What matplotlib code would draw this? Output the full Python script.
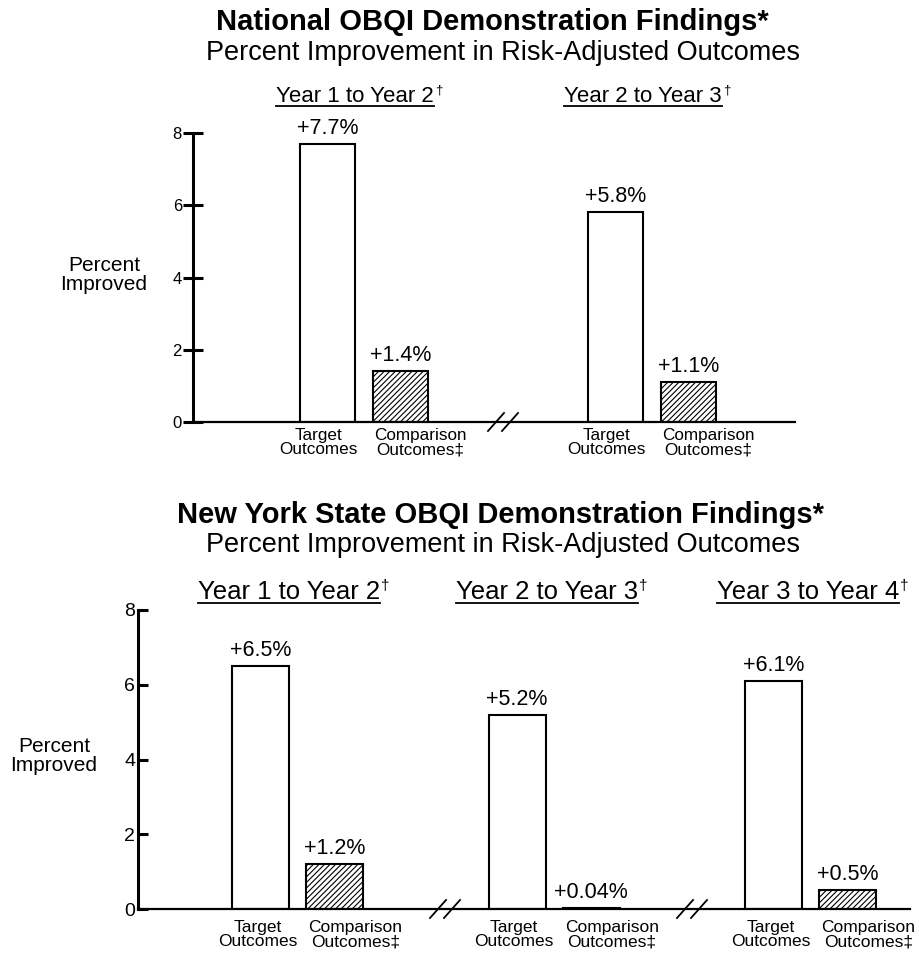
import numpy as np
import matplotlib
matplotlib.use('Agg')
from matplotlib import pyplot as plt
from matplotlib.lines import Line2D

plt.rcParams['font.family'] = ['Liberation Sans', 'DejaVu Sans']
plt.rcParams['hatch.linewidth'] = 0.8

W, H = 920, 957

# data
nat_periods = ['Year 1 to Year 2', 'Year 2 to Year 3']
nat_target = [7.7, 5.8]
nat_comparison = [1.4, 1.1]

ny_periods = ['Year 1 to Year 2', 'Year 2 to Year 3', 'Year 3 to Year 4']
ny_target = [6.5, 5.2, 6.1]
ny_comparison = [1.2, 0.04, 0.5]

yticks = [0, 2, 4, 6, 8]
cat_labels = ['Target\nOutcomes', 'Comparison\nOutcomes\u2021']


def px_axes(fig, x0, y0, x1, y1):
    # pixel box (top-left origin) -> figure fraction
    return fig.add_axes([x0 / W, 1 - y1 / H, (x1 - x0) / W, (y1 - y0) / H])


def ftext(fig, x, y, s, **kw):
    return fig.text(x / W, 1 - y / H, s, **kw)


def panel(fig, box, periods, target, comp, first, spacing, off, bw,
          tick_fs, val_fs, cat_fs, cat_pad, cat_shift, breaks, tick_dir):
    x0, y0, x1, y1 = box
    ax = px_axes(fig, x0, y0, x1, y1)
    ax.set_xlim(0, x1 - x0)
    ax.set_ylim(0, 8)
    ppu = (y1 - y0) / 8.0
    centers = first + spacing * np.arange(len(periods))
    ax.bar(centers - off, target, width=bw, color='white', edgecolor='black', lw=1.5, zorder=2)
    ax.bar(centers + off, comp, width=bw, color='white', edgecolor='black', lw=1.5,
           hatch='//////', zorder=2)
    for c, t, v in zip(centers, target, comp):
        ax.text(c - off, t + 5 / ppu, '+%g%%' % t, ha='center', va='bottom', fontsize=val_fs)
        ax.text(c + off, v + 5 / ppu, '+%g%%' % v, ha='center', va='bottom', fontsize=val_fs)
        for dx, sh, lab in zip((-off, off), cat_shift, cat_labels):
            ax.text(c + dx + sh, -cat_pad / ppu, lab, ha='center', va='top', fontsize=cat_fs,
                    linespacing=0.95)
    # axis break marks
    for bx in breaks:
        bx = bx - x0
        for dx in (-7, 7):
            ax.plot([bx + dx - 8, bx + dx + 8], [-9 / ppu, 9 / ppu], color='black', lw=1.3,
                    clip_on=False, zorder=3)
    for s in ['top', 'right']:
        ax.spines[s].set_visible(False)
    ax.spines['left'].set_linewidth(2.2)
    ax.spines['bottom'].set_linewidth(1.6)
    ax.set_xticks([])
    ax.set_yticks(yticks)
    if tick_dir == 'inout':
        ax.tick_params(axis='y', direction='inout', length=14, width=2.2, labelsize=tick_fs, pad=1)
    else:
        ax.tick_params(axis='y', direction='in', length=7, width=2.2, labelsize=tick_fs, pad=2)
    ax.patch.set_alpha(0)
    return ax


def year_labels(fig, xs, y, periods, fs):
    texts = [ftext(fig, x, y, p, ha='center', va='center', fontsize=fs) for x, p in zip(xs, periods)]
    fig.canvas.draw()
    for t in texts:
        bb = t.get_window_extent()
        fig.add_artist(Line2D([bb.x0 / W, bb.x1 / W], [(bb.y0 + 1) / H, (bb.y0 + 1) / H],
                              color='black', lw=1.3))
        fig.text(bb.x1 / W + 0.001, bb.y1 / H + 0.001, '\u2020', ha='left', va='top',
                 fontsize=fs * 0.6)


fig = plt.figure(figsize=(W / 100, H / 100), dpi=100)

# ---- National panel
ftext(fig, 492, 22, 'National OBQI Demonstration Findings*', ha='center', va='center',
      fontsize=21, fontweight='bold')
ftext(fig, 503, 53, 'Percent Improvement in Risk-Adjusted Outcomes', ha='center',
      va='center', fontsize=19.5)
panel(fig, (193, 133, 795, 422), nat_periods, nat_target, nat_comparison,
      171, 288, 36.5, 55, 12, 15.5, 12.3, 6, (-9, 20), [503], 'inout')
ftext(fig, 104, 275, 'Percent\nImproved', ha='center', va='center', fontsize=15,
      linespacing=1.0)

# ---- New York panel
ftext(fig, 501, 515, 'New York State OBQI Demonstration Findings*', ha='center',
      va='center', fontsize=21, fontweight='bold')
ftext(fig, 503, 545, 'Percent Improvement in Risk-Adjusted Outcomes', ha='center',
      va='center', fontsize=19.5)
panel(fig, (138, 610, 910, 909), ny_periods, ny_target, ny_comparison,
      159.5, 256.5, 37, 57, 14, 15.5, 12.5, 11, (-3, 21), [445, 692], 'in')
ftext(fig, 54, 756, 'Percent\nImproved', ha='center', va='center', fontsize=15,
      linespacing=1.0)

year_labels(fig, [355, 643], 96, nat_periods, 16)
year_labels(fig, [289, 547, 808], 592, ny_periods, 18.5)

fig.savefig('out.png', dpi=100)
